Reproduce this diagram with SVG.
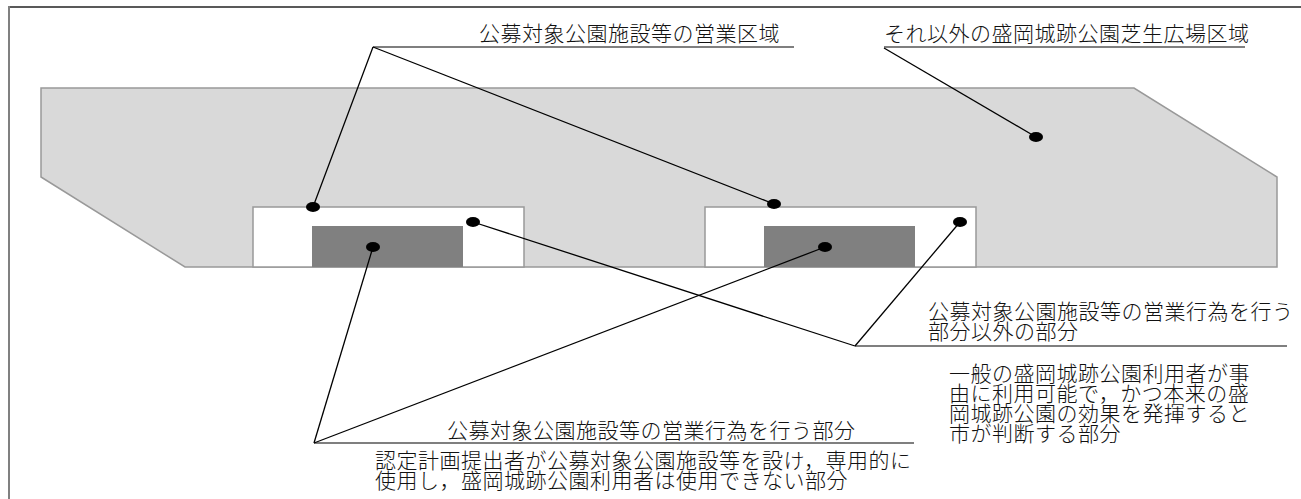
<svg xmlns="http://www.w3.org/2000/svg" width="1301" height="499" viewBox="0 0 1301 499">
<style>
text{font-family:"Noto Sans CJK JP","Noto Sans CJK SC",sans-serif;font-size:21px;letter-spacing:0.5px;font-weight:300;fill:#111}
.frame{stroke:#808080;stroke-width:2;fill:none}
.ul{stroke:#555;stroke-width:1.5;fill:none}
.leader{stroke:#000;stroke-width:1.3;fill:none}
.dot{fill:#000}
.area{fill:#d9d9d9;stroke:#999;stroke-width:1.5}
.zone{fill:#fff;stroke:#999;stroke-width:1.5}
.core{fill:#808080}
</style>
<rect width="1301" height="499" fill="#fff"/>
<g id="frame">
<line x1="9" y1="7" x2="1301" y2="7" stroke="#222" stroke-width="1.5"/>
<line class="frame" x1="9" y1="6" x2="9" y2="499"/>
</g>
<g id="lawn-area">
<polygon class="area" points="41,88 1134,88 1277,177 1277,267 185,267 41,177"/>
</g>
<g id="zone-1">
<rect class="zone" x="253" y="207" width="271" height="60"/>
<rect class="core" x="312" y="226" width="151" height="41"/>
</g>
<g id="zone-2">
<rect class="zone" x="705" y="207" width="271" height="60"/>
<rect class="core" x="764" y="226" width="151" height="41"/>
</g>
<g id="label-business-area">
<text x="479" y="41">公募対象公園施設等の営業区域</text>
<line class="ul" x1="373" y1="47" x2="794" y2="47"/>
</g>
<g id="label-other-area">
<text x="884" y="41">それ以外の盛岡城跡公園芝生広場区域</text>
<line class="ul" x1="884" y1="47" x2="1245" y2="47"/>
</g>
<g id="label-non-business-part">
<text x="928" y="319"><tspan x="928" y="319">公募対象公園施設等の営業行為を行う</tspan><tspan x="928" y="339">部分以外の部分</tspan></text>
<line class="ul" x1="855" y1="346" x2="1287" y2="346"/>
<text x="949" y="380.5"><tspan x="949" y="380.5">一般の盛岡城跡公園利用者が事</tspan><tspan x="949" y="400.5">由に利用可能で，かつ本来の盛</tspan><tspan x="949" y="420.5">岡城跡公園の効果を発揮すると</tspan><tspan x="949" y="440.5">市が判断する部分</tspan></text>
</g>
<g id="label-business-part">
<text x="447" y="438">公募対象公園施設等の営業行為を行う部分</text>
<line class="ul" x1="314" y1="443" x2="914" y2="443"/>
<text x="375" y="467.5"><tspan x="375" y="467.5">認定計画提出者が公募対象公園施設等を設け，専用的に</tspan><tspan x="375" y="487.5">使用し，盛岡城跡公園利用者は使用できない部分</tspan></text>
</g>
<g id="connectors">
<line class="leader" x1="373" y1="47" x2="313" y2="207"/>
<line class="leader" x1="373" y1="47" x2="774" y2="204"/>
<line class="leader" x1="884" y1="48" x2="1036" y2="137"/>
<line class="leader" x1="473" y1="222" x2="855" y2="346"/>
<line class="leader" x1="960" y1="222" x2="855" y2="346"/>
<line class="leader" x1="373" y1="247" x2="314" y2="443"/>
<line class="leader" x1="825" y1="247" x2="314" y2="443"/>
<ellipse class="dot" cx="313" cy="207" rx="7" ry="5"/>
<ellipse class="dot" cx="774" cy="204" rx="7" ry="5"/>
<ellipse class="dot" cx="1036" cy="137" rx="7" ry="5"/>
<ellipse class="dot" cx="473" cy="222" rx="7" ry="5"/>
<ellipse class="dot" cx="960" cy="222" rx="7" ry="5"/>
<ellipse class="dot" cx="373" cy="247" rx="7" ry="5"/>
<ellipse class="dot" cx="825" cy="247" rx="7" ry="5"/>
</g>
</svg>
